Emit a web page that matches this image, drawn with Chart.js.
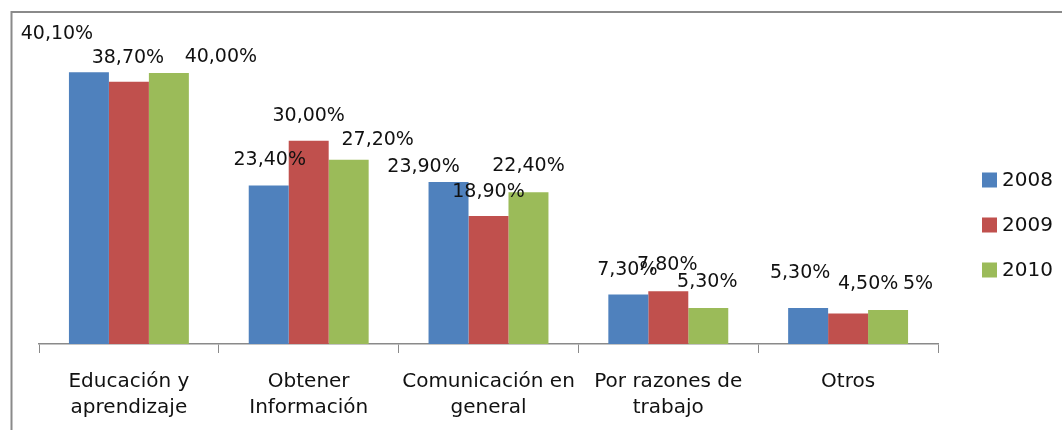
<!DOCTYPE html>
<html lang="es">
<head>
<meta charset="utf-8">
<title>Usos de Internet 2008-2010</title>
<script src="https://cdn.jsdelivr.net/npm/chart.js@4/dist/chart.umd.min.js"></script>
<style>
  html, body { margin: 0; padding: 0; background: #fff; }
  #chart-wrapper { width: 1062px; height: 430px; position: relative; }
</style>
</head>
<body>
<div id="chart-wrapper"><canvas id="chart-usos"></canvas></div>
<script>
// ─── Datos ────────────────────────────────────────────────────────────────────
const categorias = [
  ['Educación y', 'aprendizaje'],
  ['Obtener', 'Información'],
  ['Comunicación en', 'general'],
  ['Por razones de', 'trabajo'],
  ['Otros'],
];
const anios = ['2008', '2009', '2010'];

const valores2008 = [40.1, 23.4, 23.9, 7.3, 5.3];
const valores2009 = [38.7, 30.0, 18.9, 7.8, 4.5];
const valores2010 = [40.0, 27.2, 22.4, 5.3, 5.0];

// Textos de las etiquetas tal como aparecen (el último de 2010 va sin decimales)
const etiquetas2008 = ['40,10%', '23,40%', '23,90%', '7,30%', '5,30%'];
const etiquetas2009 = ['38,70%', '30,00%', '18,90%', '7,80%', '4,50%'];
const etiquetas2010 = ['40,00%', '27,20%', '22,40%', '5,30%', '5%'];

const COLORES = ['#4F81BD', '#C0504D', '#9BBB59'];
const FUENTE = '"DejaVu Sans", sans-serif';

// ─── Plugin: marco del gráfico ────────────────────────────────────────────────
const marco = {
  id: 'marco',
  beforeDraw(chart) {
    const { ctx, width, height } = chart;
    ctx.save();
    ctx.fillStyle = '#fff';
    ctx.fillRect(0, 0, width, height);
    ctx.strokeStyle = '#8a8a8a';
    ctx.lineWidth = 2;
    ctx.beginPath();
    ctx.moveTo(width, 12);
    ctx.lineTo(11.5, 12);
    ctx.lineTo(11.5, height);
    ctx.stroke();
    ctx.restore();
  },
};

// ─── Plugin: etiquetas de valor sobre las barras ──────────────────────────────
const etiquetasValor = {
  id: 'etiquetasValor',
  afterDatasetsDraw(chart, _args, opts) {
    const { ctx } = chart;
    ctx.save();
    ctx.font = `19px ${FUENTE}`;
    ctx.fillStyle = '#111';
    ctx.textAlign = 'center';
    ctx.textBaseline = 'middle';
    chart.data.datasets.forEach((ds, i) => {
      const meta = chart.getDatasetMeta(i);
      meta.data.forEach((bar, j) => {
        const [dx, dy] = opts.desplazamientos[i][j];
        ctx.fillText(ds.etiquetas[j], bar.x + dx, bar.y - dy);
      });
    });
    ctx.restore();
  },
};

// ─── Plugin: leyenda a la derecha ─────────────────────────────────────────────
const leyenda = {
  id: 'leyenda',
  afterDraw(chart, _args, opts) {
    const { ctx } = chart;
    ctx.save();
    ctx.font = `20px ${FUENTE}`;
    ctx.textAlign = 'left';
    ctx.textBaseline = 'middle';
    chart.data.datasets.forEach((ds, i) => {
      const y = opts.y + i * opts.paso;
      ctx.fillStyle = ds.backgroundColor;
      ctx.fillRect(opts.x, y - 7.5, 15, 15);
      ctx.fillStyle = '#111';
      ctx.fillText(ds.label, opts.x + 20, y + 1);
    });
    ctx.restore();
  },
};

// ─── Gráfico ──────────────────────────────────────────────────────────────────
const series = [valores2008, valores2009, valores2010];
const textos = [etiquetas2008, etiquetas2009, etiquetas2010];

new Chart(document.getElementById('chart-usos'), {
  type: 'bar',
  data: {
    labels: categorias,
    datasets: anios.map((anio, i) => ({
      label: anio,
      data: series[i],
      etiquetas: textos[i],
      backgroundColor: COLORES[i],
      borderWidth: 0,
      barPercentage: 1,
      categoryPercentage: 0.667,
    })),
  },
  options: {
    responsive: true,
    maintainAspectRatio: false,
    animation: false,
    layout: { padding: { left: 39, right: 124, top: 39, bottom: 0 } },
    plugins: {
      legend: { display: false },
      tooltip: { enabled: false },
      leyenda: { x: 982, y: 180, paso: 45 },
      etiquetasValor: {
        // [dx, distancia sobre la barra] de cada etiqueta, como en el original
        desplazamientos: [
          [[-32, 38], [1, 25], [-25, 15], [-1, 24], [-8, 35]],
          [[-1, 24], [0, 25], [0, 24], [-1, 26], [20, 29]],
          [[52, 16], [29, 20], [0, 26], [-1, 26], [30, 26]],
        ],
      },
    },
    scales: {
      x: {
        offset: true,
        grid: {
          display: true,
          drawOnChartArea: false,
          offset: true,
          color: '#8a8a8a',
          tickLength: 9,
        },
        border: { display: true, color: '#8a8a8a', width: 1.5 },
        ticks: {
          color: '#111',
          padding: 16,
          maxRotation: 0,
          autoSkip: false,
          font: { family: FUENTE, size: 20, lineHeight: 1.3 },
        },
        afterFit(scale) { scale.height = 86; },
      },
      y: {
        display: false,
        min: 0,
        max: 45,
      },
    },
  },
  plugins: [marco, etiquetasValor, leyenda],
});
</script>
</body>
</html>
